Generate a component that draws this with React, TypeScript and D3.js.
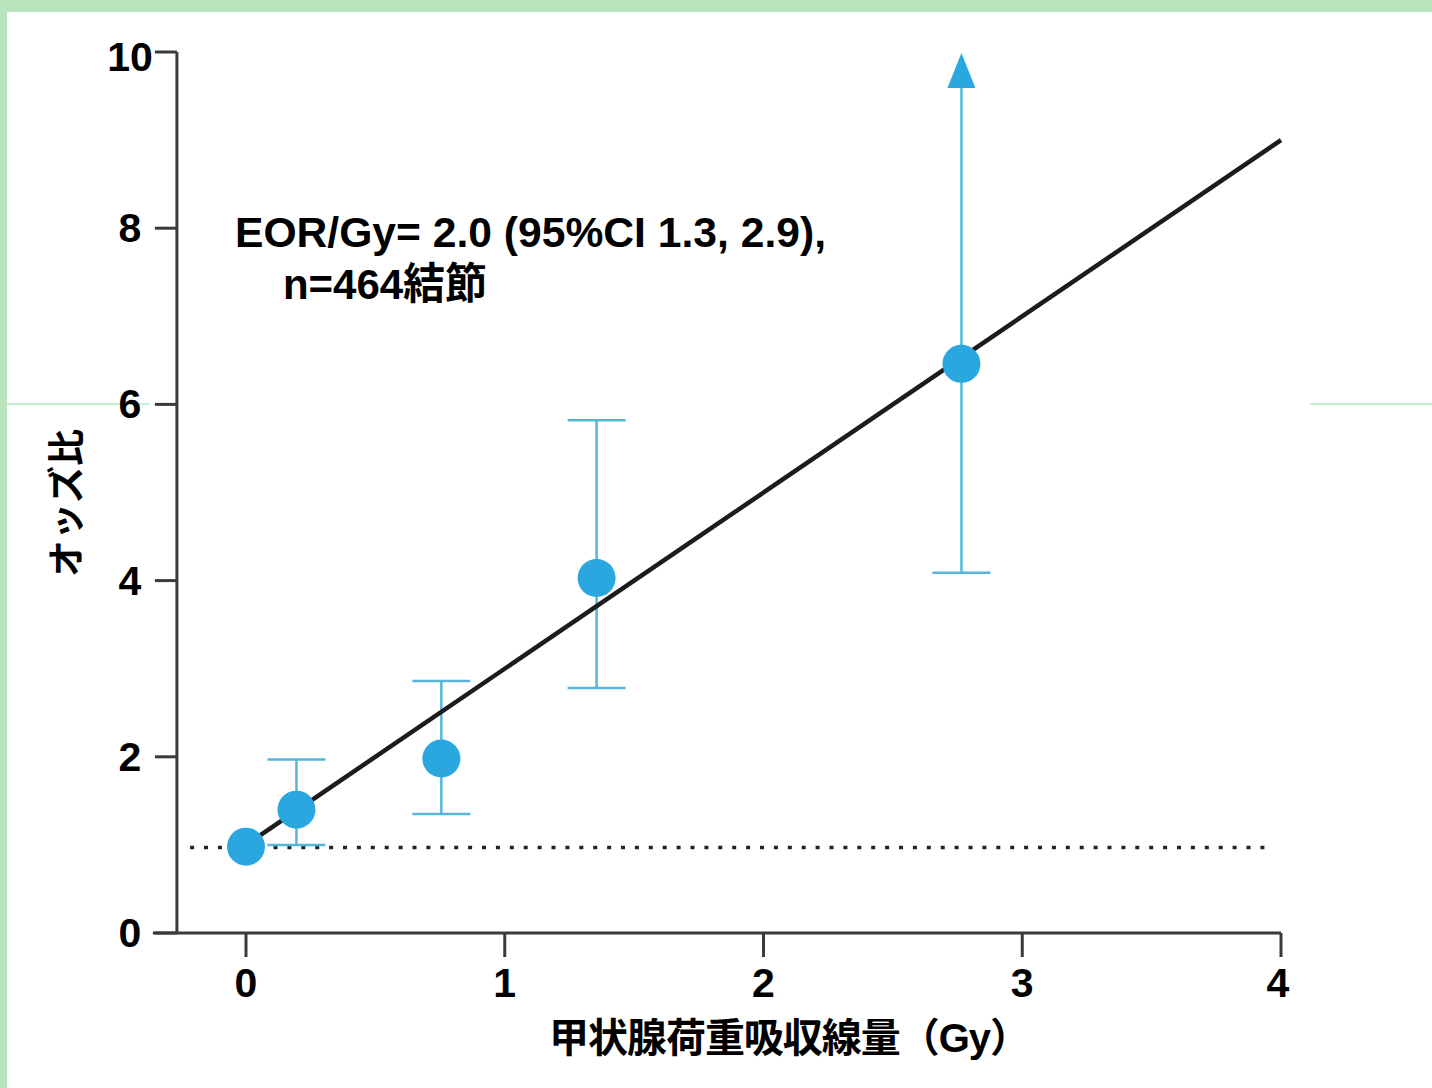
import React from 'react';
import * as d3 from 'd3';

// dose groups (Gy) and odds ratios
const doses = [0, 0.195, 0.755, 1.355, 2.765];
const oddsRatios = [0.98, 1.4, 1.98, 4.03, 6.46];
const ciLower = [null, 1.0, 1.35, 2.78, 4.09];
const ciUpper = [null, 1.97, 2.86, 5.82, 10]; // last one runs off the top (arrow)
const openUpper = [false, false, false, false, true];

const xTicks = [0, 1, 2, 3, 4];
const yTicks = [0, 2, 4, 6, 8, 10];

const eorPerGy = 2.0;
const refOR = 0.97;

const annotation1 = 'EOR/Gy= 2.0 (95%CI 1.3, 2.9),';
const annotation2 = 'n=464結節';
const xTitle = '甲状腺荷重吸収線量（Gy）';
const yTitle = 'オッズ比';

const W = 1432;
const H = 1088;
const latin = '"Liberation Sans", Arial, "Noto Sans CJK JP", sans-serif';
const green = '#b8e4be';
const dotBlue = '#2aa7df';
const barBlue = '#55b6da';
const axisGrey = '#3a3a3a';

const App = () => {
	const x = d3.scaleLinear().domain([0, 4]).range([246, 1281]);
	const y = d3.scaleLinear().domain([0, 10]).range([933, 52]);

	const yAxisX = x(-0.267);
	const xAxisLeft = x(-0.36);

	const fit = d3
		.line<number>()
		.x(d => x(d))
		.y(d => y(1 + eorPerGy * d));

	const capHalf = 29;

	return (
		<div style={{ position: 'absolute', left: 0, top: 0 }}>
			<svg width={W} height={H} style={{ display: 'block', background: 'white' }}>
				{/* slide frame */}
				<rect x={0} y={0} width={W} height={12} fill={green} />
				<rect x={0} y={0} width={7} height={H} fill={green} />
				<line x1={7} x2={150} y1={404} y2={404} stroke='#b8ecbf' strokeWidth={1.5} />
				<line x1={1310} x2={W} y1={404} y2={404} stroke='#b8ecbf' strokeWidth={1.5} />

				{/* axes */}
				<g stroke={axisGrey} strokeWidth={3} fill='none'>
					<line x1={yAxisX} x2={yAxisX} y1={y(10)} y2={y(0)} />
					<line x1={xAxisLeft} x2={x(4)} y1={y(0)} y2={y(0)} />
					{yTicks.map(t => (
						<line key={'yt' + t} x1={yAxisX - 22} x2={yAxisX} y1={y(t)} y2={y(t)} />
					))}
					{xTicks.map(t => (
						<line key={'xt' + t} x1={x(t)} x2={x(t)} y1={y(0)} y2={y(0) + 24} />
					))}
				</g>
				<g fontFamily={latin} fontWeight='bold' fontSize={41} fill='#000'>
					{yTicks.map(t => (
						<text key={'yl' + t} x={130} y={y(t) + (t === 10 ? 5 : 0)} textAnchor='middle' dominantBaseline='central'>
							{t}
						</text>
					))}
					{xTicks.map(t => (
						<text key={'xl' + t} x={x(t) - (t === 4 ? 3 : 0)} y={983} textAnchor='middle' dominantBaseline='central'>
							{t}
						</text>
					))}
				</g>

				{/* reference line OR = 1 */}
				<line
					x1={x(-0.216)}
					x2={x(3.955)}
					y1={y(refOR)}
					y2={y(refOR)}
					stroke='#222'
					strokeWidth={3.5}
					strokeDasharray='4 9.9'
				/>

				{/* error bars */}
				<g stroke={barBlue} strokeWidth={2.5} fill='none'>
					{doses.map((d, i) => {
						if (ciLower[i] === null || ciUpper[i] === null) return null;
						const cx = x(d);
						const top = openUpper[i] ? y(ciUpper[i] as number) + 35 : y(ciUpper[i] as number);
						return (
							<g key={'eb' + i}>
								<line x1={cx} x2={cx} y1={top} y2={y(ciLower[i] as number)} />
								<line x1={cx - capHalf} x2={cx + capHalf} y1={y(ciLower[i] as number)} y2={y(ciLower[i] as number)} />
								{!openUpper[i] && (
									<line x1={cx - capHalf} x2={cx + capHalf} y1={top} y2={top} />
								)}
							</g>
						);
					})}
				</g>
				{doses.map((d, i) =>
					openUpper[i] ? (
						<path
							key={'ar' + i}
							d={`M${x(d)},${y(ciUpper[i] as number) + 1} L${x(d) + 14},${y(ciUpper[i] as number) + 36} L${x(d) - 14},${y(ciUpper[i] as number) + 36} Z`}
							fill={dotBlue}
						/>
					) : null
				)}

				{/* fitted linear ERR model */}
				<path d={fit([0, 4]) as string} stroke='#1c1c1c' strokeWidth={4.5} fill='none' />

				{/* points */}
				{doses.map((d, i) => (
					<circle key={'pt' + i} cx={x(d)} cy={y(oddsRatios[i])} r={19} fill={dotBlue} />
				))}

				{/* annotation */}
				<g fontFamily={latin} fontWeight='bold' fontSize={43} fill='#000'>
					<text x={235} y={247} textLength={591} lengthAdjust='spacingAndGlyphs'>
						{annotation1}
					</text>
					<text x={283} y={299} textLength={204} lengthAdjust='spacingAndGlyphs'>
						{annotation2}
					</text>
				</g>

				{/* axis titles */}
				<text
					x={549}
					y={1038}
					textLength={481}
					lengthAdjust='spacing'
					dominantBaseline='central'
					fontFamily={latin}
					fontWeight='bold'
					fontSize={40}
				>
					{xTitle}
				</text>
				<text
					transform={`translate(64 503) rotate(-90)`}
					textAnchor='middle'
					dominantBaseline='central'
					fontFamily='"Noto Sans CJK JP", sans-serif'
					fontWeight='bold'
					fontSize={37}
				>
					{yTitle}
				</text>
			</svg>
		</div>
	);
};

export default App;
